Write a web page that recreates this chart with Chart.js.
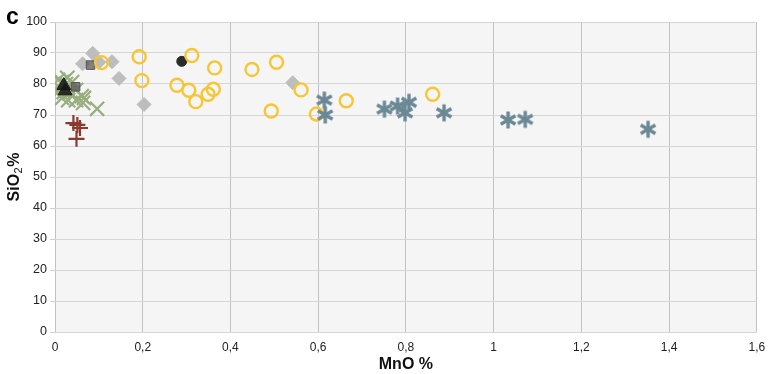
<!DOCTYPE html>
<html>
<head>
<meta charset="utf-8">
<script src="https://cdn.jsdelivr.net/npm/chart.js@4/dist/chart.umd.min.js"></script>
<style>
html,body{margin:0;padding:0;background:#fff;}
#wrap{width:769px;height:374px;position:relative;}
</style>
</head>
<body>
<div id="wrap"><canvas id="c" width="769" height="374"></canvas></div>
<script>
// Data (MnO %, SiO2 %)
const yellowCircles = [
  [0.192,88.8],[0.312,89.2],[0.364,85.2],[0.449,84.7],[0.505,87.0],
  [0.198,81.1],[0.278,79.6],[0.305,78.0],[0.321,74.3],[0.349,76.7],
  [0.361,78.3],[0.561,78.1],[0.493,71.3],[0.596,70.3],[0.664,74.6],
  [0.861,76.7],[0.106,86.9]
];
const blackCircles = [[0.289,87.3]];
const greyDiamonds = [[0.086,89.9],[0.063,86.5],[0.130,87.2],[0.146,81.8],[0.203,73.4],[0.542,80.4],[0.100,87.0]];
const darkSquares = [[0.081,86.1],[0.047,79.1]];
const blackTriangles = [[0.020,79.5],[0.023,77.8]];
const greenCrosses = [
  [0.007,81.3],[0.016,80.6],[0.025,80.0],[0.039,80.6],[0.011,78.7],
  [0.020,77.4],[0.034,77.4],[0.048,78.1],[0.061,76.1],[0.016,75.5],
  [0.030,74.8],[0.048,74.8],[0.066,75.5],[0.064,73.9],[0.096,72.0],
  [0.004,77.0],[0.028,82.0]
];
const redPlus = [[0.042,67.4],[0.051,66.8],[0.057,65.8],[0.049,62.3]];
const steelStars = [
  [0.614,74.8],[0.616,70.0],[0.751,71.9],[0.781,72.9],[0.798,70.7],
  [0.807,74.1],[0.887,70.7],[1.033,68.4],[1.072,68.6],[1.352,65.4]
];
const xTicks = [0,0.2,0.4,0.6,0.8,1,1.2,1.4,1.6];
const yTicks = [0,10,20,30,40,50,60,70,80,90,100];

const FONT = '"Liberation Sans", Arial, sans-serif';
const toPts = a => a.map(p => ({x:p[0], y:p[1]}));

// 6-armed asterisk
function asterisk(color){
  const s=20, c=document.createElement('canvas'); c.width=s; c.height=s;
  const g=c.getContext('2d'); g.strokeStyle=color; g.lineWidth=3.4; g.lineCap='butt';
  const r=8.5;
  for(let i=0;i<3;i++){
    const a=Math.PI/2 + i*Math.PI/3;
    g.beginPath(); g.moveTo(s/2+r*Math.cos(a), s/2-r*Math.sin(a));
    g.lineTo(s/2-r*Math.cos(a), s/2+r*Math.sin(a)); g.stroke();
  }
  return c;
}
const starImg = asterisk('#6b8895');

const bgPlugin = {
  id:'bg',
  beforeDraw(chart){
    const {ctx, chartArea:a} = chart;
    ctx.save(); ctx.fillStyle='#f5f5f5'; ctx.fillRect(a.left,a.top,a.right-a.left,a.bottom-a.top);
    ctx.fillStyle='#000'; ctx.font='bold 23px '+FONT;
    ctx.textBaseline='alphabetic'; ctx.fillText('c',6,24); ctx.restore();
  },
  afterDraw(chart){
    const {ctx, chartArea:a} = chart;
    ctx.save();
    ctx.translate(15, (a.top+a.bottom)/2);
    ctx.rotate(-Math.PI/2);
    ctx.fillStyle='#111'; ctx.textBaseline='middle';
    const big='bold 16px '+FONT, small='11px '+FONT;
    ctx.font=big; const w1=ctx.measureText('SiO').width, w3=ctx.measureText('%').width;
    ctx.font=small; const w2=ctx.measureText('2').width+1;
    let x=-(w1+w2+w3)/2;
    ctx.font=big; ctx.fillText('SiO',x,0); x+=w1;
    ctx.font=small; ctx.fillText('2',x+0.5,4); x+=w2;
    ctx.font=big; ctx.fillText('%',x,0);
    ctx.restore();
  }
};

new Chart(document.getElementById('c'), {
  type:'scatter',
  data:{datasets:[
    {data:toPts(steelStars), pointStyle:starImg, pointRadius:10, order:1},
    {data:toPts(yellowCircles), pointStyle:'circle', pointRadius:6.5, borderColor:'#f7c632', backgroundColor:'rgba(0,0,0,0)', borderWidth:2.4, order:2},
    {data:toPts(blackCircles), pointStyle:'circle', pointRadius:5, borderColor:'#2b2b2b', backgroundColor:'#2b2b2b', borderWidth:1, order:3},
    {data:toPts(greyDiamonds), pointStyle:'rectRot', pointRadius:7, borderColor:'#bdbdbd', backgroundColor:'#bdbdbd', borderWidth:1, order:4},
    {data:toPts(darkSquares), pointStyle:'rect', pointRadius:6, borderColor:'#555', backgroundColor:'rgba(90,90,90,0.75)', borderWidth:1, order:3},
    {data:toPts(blackTriangles), pointStyle:'triangle', pointRadius:8, borderColor:'#1a1a1a', backgroundColor:'rgba(20,20,20,0.85)', borderWidth:1, order:2},
    {data:toPts(greenCrosses), pointStyle:'crossRot', pointRadius:10, borderColor:'#98ae7e', backgroundColor:'#98ae7e', borderWidth:2.2, order:5},
    {data:toPts(redPlus), pointStyle:'cross', pointRadius:8, borderColor:'#8c3a30', backgroundColor:'#8c3a30', borderWidth:2.2, order:1}
  ]},
  options:{
    responsive:false, animation:false,
    layout:{padding:{left:0,right:5,top:22,bottom:0}},
    plugins:{legend:{display:false}, tooltip:{enabled:false}},
    scales:{
      x:{
        type:'linear', min:0, max:1.6,
        afterBuildTicks(s){ s.ticks = xTicks.map(v=>({value:v})); },
        afterFit(s){ s.height = 42; s.paddingRight = 0; s.paddingLeft = 0; },
        grid:{color:'#c2c2c2', lineWidth:1, drawTicks:false},
        border:{display:false},
        ticks:{padding:8, color:'#222', font:{family:FONT, size:12}, maxRotation:0,
          callback:v=>String(Math.round(v*10)/10).replace('.',',')},
        title:{display:true, text:'MnO %', color:'#111', padding:{top:1,bottom:0}, font:{family:FONT, size:16, weight:'bold'}}
      },
      y:{
        type:'linear', min:0, max:100,
        afterBuildTicks(s){ s.ticks = yTicks.map(v=>({value:v})); },
        afterFit(s){ s.width = 55; },
        grid:{color:'#d6d6d6', lineWidth:1, tickLength:5, tickColor:'#d0d0d0'},
        border:{display:false},
        ticks:{padding:3, color:'#222', font:{family:FONT, size:12.5}},
        title:{display:false}
      }
    }
  },
  plugins:[bgPlugin]
});
</script>
</body>
</html>
